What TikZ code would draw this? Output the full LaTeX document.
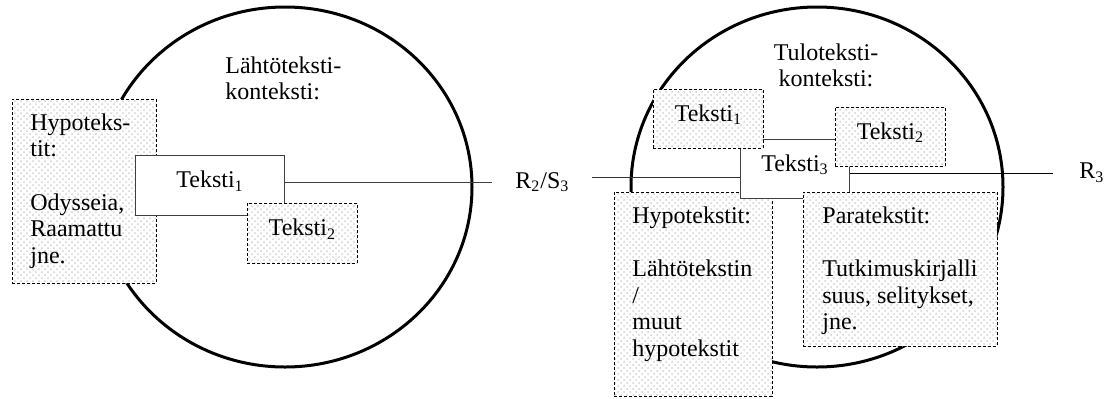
\documentclass[tikz,border=0pt]{standalone}
\usepackage{fontspec}
\setmainfont{Liberation Serif}
\usepackage{tikz}
\usetikzlibrary{patterns}

\begin{document}
\begin{tikzpicture}[x=0.5pt, y=-0.5pt,
    font=\fontsize{12}{13.35}\selectfont,
    dotbox/.style={draw, line width=0.4pt, dash pattern=on 1.5pt off 1pt,
        preaction={fill=white}, pattern=crosshatch dots, pattern color=black!18,
        inner sep=0pt, anchor=north west},
    plainbox/.style={draw=black!75, line width=0.5pt, fill=white,
        inner sep=0pt, anchor=north west},
    tekbox/.style={text height=8.2pt, text depth=6pt},
    boxtext/.style={anchor=north west, align=left, inner sep=0pt}]

    \useasboundingbox (0,0) rectangle (1109,398);

    % Circles
    \draw[line width=1.5pt] (285,187) ellipse [x radius=93.5pt, y radius=90pt];
    \draw[line width=1.5pt] (817,187) ellipse [x radius=93pt, y radius=90pt];

    % Lahtoteksti side
    \node[dotbox, minimum width=72pt, minimum height=92pt] (hypL) at (12,99) {};
    \node[plainbox, tekbox, minimum width=74.5pt, minimum height=30pt] (t1L) at (135,155) {Teksti\textsubscript{1}};
    \node[dotbox, tekbox, minimum width=55pt, minimum height=30pt] (t2L) at (247,203) {Teksti\textsubscript{2}};
    \node[boxtext] (hypLtxt) at ([xshift=9pt, yshift=-7pt]hypL.north west)
        {Hypoteks-\\tit:\\[13.35pt]Odysseia,\\Raamattu\\jne.};
    \node[boxtext] (lkont) at (225,56) {Lähtöteksti-\\konteksti:};

    % Tuloteksti side
    \node[dotbox, minimum width=79pt, minimum height=102pt] (hypR) at (614,192) {};
    \node[plainbox, tekbox, minimum width=54.5pt, minimum height=29.5pt] (t3R) at (740,139) {Teksti\textsubscript{3}};
    \node[dotbox, minimum width=97pt, minimum height=77pt] (parR) at (803,192) {};
    \node[dotbox, tekbox, minimum width=55pt, minimum height=29.5pt] (t1R) at (653,89) {Teksti\textsubscript{1}};
    \node[dotbox, tekbox, minimum width=55pt, minimum height=29.5pt] (t2R) at (835,107) {Teksti\textsubscript{2}};
    \node[boxtext] (hypRtxt) at ([xshift=9pt, yshift=-7pt]hypR.north west)
        {Hypotekstit:\\[13.35pt]Lähtötekstin\\/\\muut\\hypotekstit};
    \node[boxtext] (parRtxt) at ([xshift=9.5pt, yshift=-7pt]parR.north west)
        {Paratekstit:\\[13.35pt]Tutkimuskirjalli\\suus, selitykset,\\jne.};
    \node[anchor=north, align=center, inner sep=0pt] (tkont) at (826,43) {Tuloteksti-\\konteksti:};

    % Lines and labels
    \coordinate (lEnd) at (492,182);
    \draw[black!75] (t1L.east |- lEnd) -- (lEnd);
    \node[anchor=west, inner sep=0pt] (rsLbl) at (515,182) {R\textsubscript{2}/S\textsubscript{3}};

    \coordinate (rStart) at (592,177);
    \coordinate (rEnd) at (1053,173);
    \draw[black!80] (rStart) -- (rStart -| t3R.west);
    \draw (rEnd -| t3R.east) -- (rEnd);
    \node[anchor=west, inner sep=0pt] (rLbl) at (1079,173) {R\textsubscript{3}};

\end{tikzpicture}
\end{document}
